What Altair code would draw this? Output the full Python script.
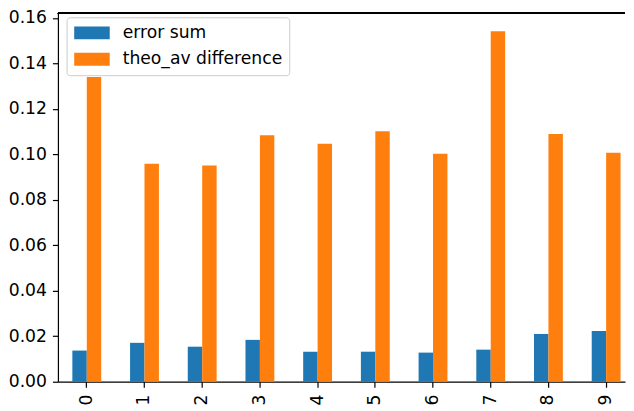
import altair as alt
import pandas as pd

categories = [str(i) for i in range(10)]
series_names = ["error sum", "theo_av difference"]
error_sum = [0.0137, 0.0171, 0.0154, 0.0184, 0.0132, 0.0132, 0.0128, 0.0141, 0.0210, 0.0223]
theo_av_difference = [0.1340, 0.0959, 0.0951, 0.1084, 0.1046, 0.1101, 0.1003, 0.1541, 0.1089, 0.1007]
y_ticks = [0.00, 0.02, 0.04, 0.06, 0.08, 0.10, 0.12, 0.14, 0.16]
colors = ["#1f77b4", "#ff7f0e"]

rows = []
for c, a, b in zip(categories, error_sum, theo_av_difference):
    rows.append({"idx": c, "series": series_names[0], "value": a})
    rows.append({"idx": c, "series": series_names[1], "value": b})
df = pd.DataFrame(rows)

FONT = "DejaVu Sans"
FS = 17.2

bars = alt.Chart(df).mark_bar().encode(
    x=alt.X(
        "idx:N",
        sort=categories,
        scale=alt.Scale(paddingInner=0.5, paddingOuter=0.1635, align=0.765),
        axis=alt.Axis(
            title=None, labelAngle=-90, labelFont=FONT, labelFontSize=FS,
            labelColor="black", tickColor="black", tickSize=5.5, tickWidth=1.2,
            domainColor="black", domainWidth=1.2, labelPadding=7, grid=False,
        ),
    ),
    xOffset=alt.XOffset("series:N", sort=series_names),
    y=alt.Y(
        "value:Q",
        scale=alt.Scale(domain=[0, 0.162], nice=False, zero=True),
        axis=alt.Axis(
            title=None, values=y_ticks, format=".2f", labelFont=FONT, labelFontSize=FS,
            labelColor="black", tickColor="black", tickSize=5.5, tickWidth=1.2,
            domainColor="black", domainWidth=1.2, labelPadding=6, grid=False,
        ),
    ),
    color=alt.Color(
        "series:N",
        sort=series_names,
        scale=alt.Scale(domain=series_names, range=colors),
        legend=alt.Legend(
            title=None, orient="none", legendX=8.7, legendY=4,
            labelFont=FONT, labelFontSize=FS, labelColor="black",
            symbolType="M-1,-0.8125L3.45,-0.8125L3.45,0.8125L-1,0.8125Z",
            symbolSize=256, symbolStrokeWidth=0, symbolOpacity=1,
            labelOffset=32, rowPadding=8.5, padding=7,
            strokeColor="#cccccc", fillColor="rgba(255,255,255,0.8)", cornerRadius=3,
        ),
    ),
)

top_spine = alt.Chart(df).mark_rule(color="black", strokeWidth=1.2).encode(y=alt.value(0))

chart = alt.layer(bars, top_spine).properties(
    width=568, height=369, padding={"left": 0, "top": 0, "right": 0, "bottom": 0}
).configure_view(stroke=None)

chart.save("out.html", embed_options={"renderer": "svg", "actions": False})
